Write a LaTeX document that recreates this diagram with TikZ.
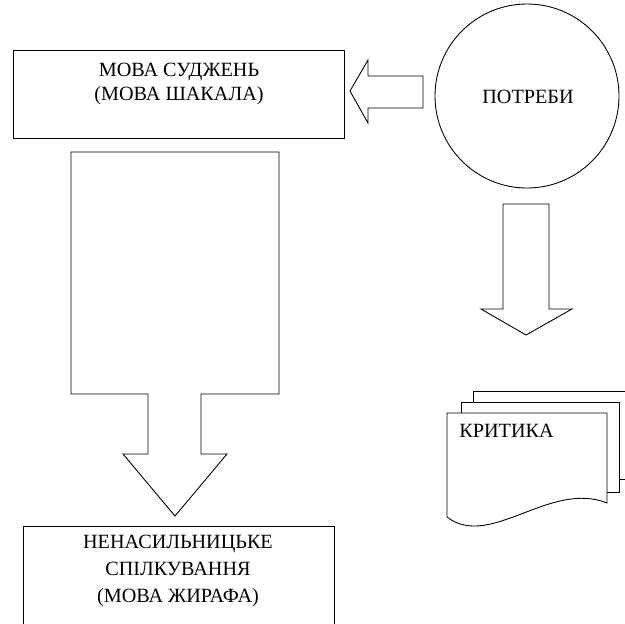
\documentclass[tikz,border=0pt]{standalone}
\usepackage{fontspec}
\setmainfont{Liberation Serif}

\begin{document}
\begin{tikzpicture}[x=0.02cm,y=-0.02cm,line width=0.5pt]
\useasboundingbox (0,0) rectangle (625,623);
\clip (0,0) rectangle (625,623);
% top box
\draw (13,50) rectangle (344,138);
\node[align=center, font=\fontsize{11.5}{13.6}\selectfont] (judg) at (179,84) {МОВА СУДЖЕНЬ\\(МОВА ШАКАЛА)};
% needs circle
\draw (527,96) circle [radius=92];
\node[font=\fontsize{11.5}{13}\selectfont] (needs) at (528,97) {ПОТРЕБИ};
% arrow from needs to judg
\draw (423,76) -- (368,76) -- (368,60) -- (350,91) -- (368,123) -- (368,108) -- (423,108) -- cycle;
% arrow from needs down to critique
\draw (503,204) -- (549,204) -- (549,309) -- (572,309) -- (526,335) -- (481,309) -- (503,309) -- cycle;
% big arrow from judg down
\draw (71,152) -- (279,152) -- (279,394) -- (201,394) -- (201,454) -- (227,454) -- (175,516) -- (123,454) -- (148,454) -- (148,394) -- (71,394) -- cycle;
% bottom box
\draw (23,526) rectangle (334,640);
\node[align=center, font=\fontsize{11.5}{15.3}\selectfont] (giraffe) at (178,571) {НЕНАСИЛЬНИЦЬКЕ\\СПІЛКУВАННЯ\\(МОВА ЖИРАФА)};
% critique pages
\draw (473,402) -- (473,391) -- (631,391) -- (631,479) -- (619,479);
\draw (461,413) -- (461,402) -- (619,402) -- (619,492) -- (607,492);
\draw (447,517) -- (447,413) -- (607,413) -- (607,503) .. controls (550,480) and (490,550) .. (447,517);
\node[anchor=west, font=\fontsize{11.5}{13}\selectfont, inner sep=0pt] (crit) at (459,431) {КРИТИКА};
\end{tikzpicture}
\end{document}
